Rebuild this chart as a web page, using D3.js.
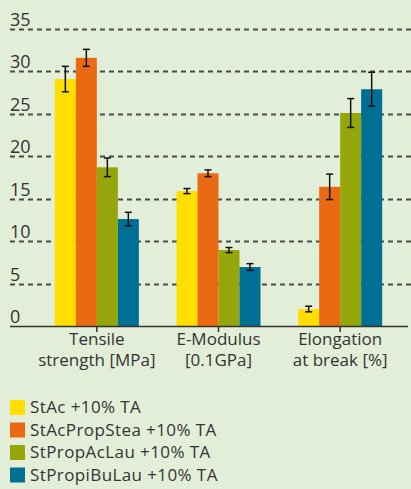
<!DOCTYPE html>
<html>
<head>
<meta charset="utf-8">
<script src="https://cdn.jsdelivr.net/npm/d3@7"></script>
<style>
  html, body { margin: 0; padding: 0; background: #e3eed9; }
  svg { display: block; }
  text { font-family: "Open Sans", sans-serif; fill: #333; }
</style>
</head>
<body>
<script>
// data
const categories = ["Tensile strength [MPa]", "E-Modulus [0.1GPa]", "Elongation at break [%]"];
const categoryLines = [["Tensile", "strength [MPa]"], ["E-Modulus", "[0.1GPa]"], ["Elongation", "at break [%]"]];
const seriesNames = ["StAc +10% TA", "StAcPropStea +10% TA", "StPropAcLau +10% TA", "StPropiBuLau +10% TA"];
const seriesColors = ["#ffde00", "#ea6a14", "#95a60b", "#006f94"];
const values = [
    [29.1, 15.9, 2.0],
    [31.6, 18.0, 16.4],
    [18.7, 8.95, 25.1],
    [12.6, 6.95, 27.9]
];
const errors = [
    [1.5, 0.3, 0.33],
    [1.0, 0.4, 1.5],
    [1.1, 0.3, 1.7],
    [0.8, 0.4, 2.0]
];
const yTicks = [0, 5, 10, 15, 20, 25, 30, 35];

const width = 411, height = 489;

const svg = d3.select("body").append("svg")
    .attr("width", width)
    .attr("height", height);

const y = d3.scaleLinear().domain([0, 35]).range([326, 29]);
const x0 = d3.scaleBand().domain(categories).range([36, 401]).paddingInner(0).paddingOuter(0);
const x1 = d3.scaleBand().domain(d3.range(seriesNames.length)).range([0, 84]);
const groupOffset = (x0.bandwidth() - 84) / 2;

// gridlines
svg.append("g").selectAll("line")
    .data(yTicks.filter(d => d > 0))
    .enter().append("line")
    .attr("x1", 10).attr("x2", width)
    .attr("y1", d => Math.round(y(d)) + 0.5)
    .attr("y2", d => Math.round(y(d)) + 0.5)
    .style("stroke", "#4a4a4a")
    .style("stroke-width", "2px")
    .style("stroke-dasharray", "5,4");

// y labels
svg.append("g").selectAll("text")
    .data(yTicks)
    .enter().append("text")
    .attr("x", 10)
    .attr("y", d => y(d) - 3)
    .style("font-size", "18px")
    .text(d => d);

// bars
const rows = [];
values.forEach((vals, s) => vals.forEach((v, c) => rows.push({ s: s, c: c, v: v, e: errors[s][c] })));

const bars = svg.append("g").selectAll("g")
    .data(rows)
    .enter().append("g")
    .attr("transform", d => "translate(" + (x0(categories[d.c]) + groupOffset + x1(d.s)) + ",0)");

bars.append("rect")
    .attr("x", 0)
    .attr("y", d => y(d.v))
    .attr("width", x1.bandwidth())
    .attr("height", d => y(0) - y(d.v))
    .style("fill", d => seriesColors[d.s]);

const cx = x1.bandwidth() / 2;
bars.append("line")
    .attr("x1", cx).attr("x2", cx)
    .attr("y1", d => y(d.v + d.e)).attr("y2", d => y(d.v - d.e))
    .style("stroke", "#111").style("stroke-width", "1.5px");
bars.append("line")
    .attr("x1", cx - 3.5).attr("x2", cx + 3.5)
    .attr("y1", d => y(d.v + d.e)).attr("y2", d => y(d.v + d.e))
    .style("stroke", "#111").style("stroke-width", "1.5px");
bars.append("line")
    .attr("x1", cx - 3.5).attr("x2", cx + 3.5)
    .attr("y1", d => y(d.v - d.e)).attr("y2", d => y(d.v - d.e))
    .style("stroke", "#111").style("stroke-width", "1.5px");

// x axis
const xAxis = svg.append("g");
xAxis.append("line")
    .attr("x1", 10).attr("x2", 408)
    .attr("y1", y(0) + 0.5).attr("y2", y(0) + 0.5)
    .style("stroke", "#333").style("stroke-width", "1.5px");

const ticks = xAxis.selectAll("g.tick")
    .data(categories)
    .enter().append("g")
    .attr("class", "tick")
    .attr("transform", d => "translate(" + (x0(d) + x0.bandwidth() / 2) + ",0)");
ticks.append("line")
    .attr("y1", y(0)).attr("y2", y(0) + 6)
    .style("stroke", "#333").style("stroke-width", "1.5px");
ticks.append("text")
    .attr("text-anchor", "middle")
    .style("font-size", "17px")
    .selectAll("tspan")
    .data((d, i) => categoryLines[i])
    .enter().append("tspan")
    .attr("x", 0)
    .attr("y", (d, i) => 345 + i * 21)
    .text(d => d);

// legend
const legend = svg.append("g").selectAll("g")
    .data(seriesNames)
    .enter().append("g")
    .attr("transform", (d, i) => "translate(10," + (400 + i * 22.5) + ")");
legend.append("rect")
    .attr("width", 15).attr("height", 15)
    .style("fill", (d, i) => seriesColors[i]);
legend.append("text")
    .attr("x", 20).attr("y", 13)
    .style("font-size", "17px")
    .style("letter-spacing", "0.4px")
    .text(d => d);
</script>
</body>
</html>
